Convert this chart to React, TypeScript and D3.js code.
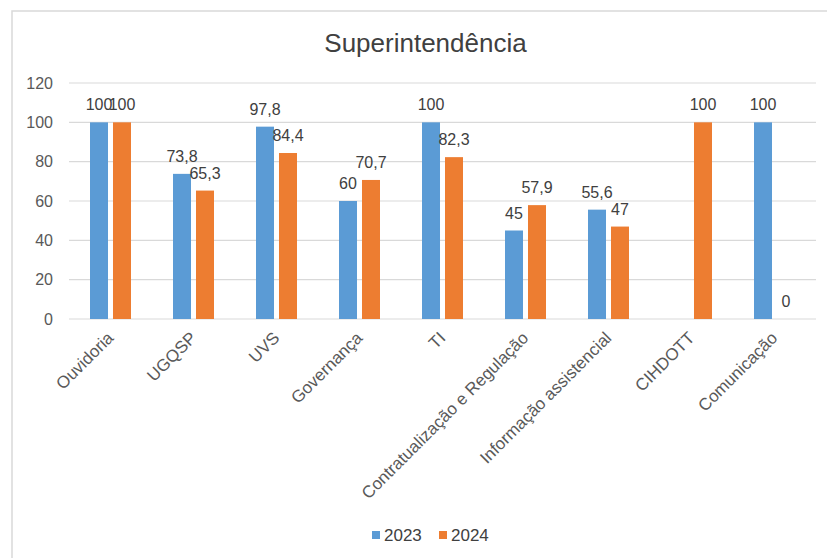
import React from "react";
import * as d3 from "d3";

// Categories (sectors) and yearly percentages
const categories = [
  "Ouvidoria",
  "UGQSP",
  "UVS",
  "Governança",
  "TI",
  "Contratualização e Regulação",
  "Informação assistencial",
  "CIHDOTT",
  "Comunicação",
];
const values2023: (number | null)[] = [100, 73.8, 97.8, 60, 100, 45, 55.6, null, 100];
const values2024: (number | null)[] = [100, 65.3, 84.4, 70.7, 82.3, 57.9, 47, 100, 0];
const seriesNames = ["2023", "2024"];
const seriesColors = ["#5B9BD5", "#ED7D31"];
const yTicks = [0, 20, 40, 60, 80, 100, 120];
const title = "Superintendência";

const W = 827;
const H = 558;
const FONT = "'Liberation Sans', Arial, sans-serif";

const fmt = (v: number) => String(v).replace(".", ",");

export default function App() {
  const plotLeft = 69;
  const plotRight = 816;
  const plotTop = 83;
  const plotBottom = 319;

  const x = d3.scaleBand<string>().domain(categories).range([plotLeft, plotRight]).padding(0);
  const groupWidth = 41;
  const inner = d3
    .scaleBand<string>()
    .domain(seriesNames)
    .range([0, groupWidth])
    .paddingInner(0.217)
    .paddingOuter(0);
  const y = d3.scaleLinear().domain([0, 120]).range([plotBottom, plotTop]);

  const series = [values2023, values2024];

  return (
    <svg
      width={W}
      height={H}
      style={{ position: "absolute", left: 0, top: 0, background: "#fff" }}
      fontFamily={FONT}
    >
      <rect x={0} y={0} width={W} height={H} fill="#fff" />
      {/* chart frame */}
      <rect x={12} y={11} width={W + 20} height={H + 20} fill="none" stroke="#d9d9d9" strokeWidth={1.5} />

      <text x={425.5} y={52} textAnchor="middle" fontSize={26} fill="#404040">
        {title}
      </text>

      {/* gridlines and y-axis labels */}
      {yTicks.map((t) => (
        <g key={t}>
          <line x1={plotLeft} x2={plotRight} y1={y(t)} y2={y(t)} stroke="#d9d9d9" strokeWidth={1.2} />
          <text x={53} y={y(t)} dy="0.35em" textAnchor="end" fontSize={16} fill="#595959">
            {t}
          </text>
        </g>
      ))}

      {/* bars */}
      {categories.map((c, i) => {
        const gx = (x(c) as number) + (x.bandwidth() - groupWidth) / 2;
        return (
          <g key={c}>
            {series.map((vals, s) => {
              const v = vals[i];
              if (v === null) return null;
              const bx = gx + (inner(seriesNames[s]) as number);
              return (
                <rect
                  key={s}
                  x={bx}
                  y={y(v)}
                  width={inner.bandwidth()}
                  height={y(0) - y(v)}
                  fill={seriesColors[s]}
                />
              );
            })}
          </g>
        );
      })}

      {/* data labels */}
      {categories.map((c, i) => {
        const gx = (x(c) as number) + (x.bandwidth() - groupWidth) / 2;
        return (
          <g key={c + "-lbl"}>
            {series.map((vals, s) => {
              const v = vals[i];
              if (v === null) return null;
              const cx = gx + (inner(seriesNames[s]) as number) + inner.bandwidth() / 2;
              return (
                <text key={s} x={cx} y={y(v) - 12} textAnchor="middle" fontSize={16} fill="#404040">
                  {fmt(v)}
                </text>
              );
            })}
          </g>
        );
      })}

      {/* category labels */}
      {categories.map((c) => {
        const cx = (x(c) as number) + x.bandwidth() / 2 + 4;
        const cy = 339;
        return (
          <text
            key={c + "-cat"}
            x={cx}
            y={cy}
            textAnchor="end"
            fontSize={17}
            fill="#595959"
            transform={`rotate(-45 ${cx} ${cy})`}
          >
            {c}
          </text>
        );
      })}

      {/* legend */}
      {seriesNames.map((n, s) => {
        const lx = 372 + s * 67;
        return (
          <g key={n}>
            <rect x={lx} y={531} width={8} height={8} fill={seriesColors[s]} />
            <text x={lx + 12} y={541} fontSize={17} fill="#404040">
              {n}
            </text>
          </g>
        );
      })}
    </svg>
  );
}
